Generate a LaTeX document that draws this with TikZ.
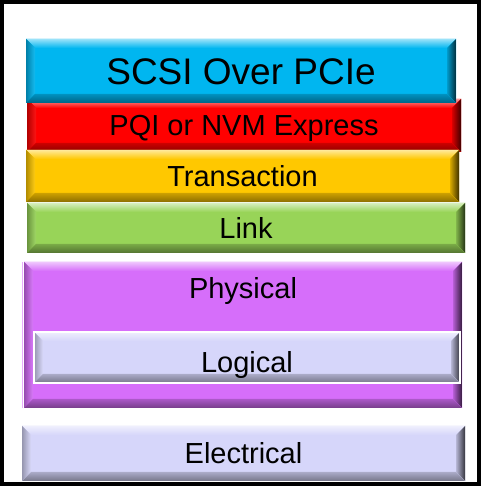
\documentclass[tikz,border=0pt]{standalone}
\usepackage{fontspec}
\setmainfont{Liberation Sans}
\usetikzlibrary{calc}

\definecolor{scsiblue}{RGB}{0,182,240}
\definecolor{pqired}{RGB}{255,0,0}
\definecolor{transgold}{RGB}{255,200,0}
\definecolor{linkgreen}{RGB}{152,212,88}
\definecolor{physviolet}{RGB}{214,110,250}
\definecolor{lavender}{RGB}{214,214,250}

\tikzset{
  % a flat face with a bevelled rim: light top, dark right and bottom
  layer/.style={
    rectangle, inner sep=0pt, outer sep=0pt, fill=#1,
    path picture={
      \coordinate (bvsw) at (path picture bounding box.south west);
      \coordinate (bvne) at (path picture bounding box.north east);
      \coordinate (bvnw) at (bvsw|-bvne);
      \coordinate (bvse) at (bvne|-bvsw);
      \coordinate (ibsw) at ($(bvsw)+(9pt,9pt)$);
      \coordinate (ibne) at ($(bvne)+(-9pt,-9pt)$);
      \coordinate (ibnw) at ($(bvnw)+(9pt,-9pt)$);
      \coordinate (ibse) at ($(bvse)+(-9pt,9pt)$);
      \fill[top color=#1!40!white, bottom color=#1] (bvnw) -- (bvne) -- (ibne) -- (ibnw) -- cycle;
      \fill[left color=#1!70!black, right color=#1!92!white] (bvnw) -- (ibnw) -- (ibsw) -- (bvsw) -- cycle;
      \fill[left color=#1!85!black, right color=#1!25!black] (bvne) -- (bvse) -- (ibse) -- (ibne) -- cycle;
      \fill[top color=#1!80!black, bottom color=#1!55!black] (bvsw) -- (ibsw) -- (ibse) -- (bvse) -- cycle;
    }
  },
  % cap height of Arial-metric text is 0.716 of the size
  label29/.style={font=\fontsize{29}{30}\selectfont, text height=20.8pt, text depth=0pt},
  label37/.style={font=\fontsize{37}{38}\selectfont, text height=26.5pt, text depth=0pt},
}

\begin{document}
\begin{tikzpicture}[x=1pt,y=1pt]
  \useasboundingbox (0,0) rectangle (481,486);
  \fill[white] (0,0) rectangle (481,486);

  % protocol stack, drawn so that each layer overlaps the one above it
  \node[layer=pqired, label29, minimum width=434pt, minimum height=53pt]
    (pqi) at (244,360.5) {PQI or NVM Express};
  \node[layer=scsiblue, label37, minimum width=430pt, minimum height=64pt]
    (scsi) at (241,415) {SCSI Over PCIe};
  \node[layer=transgold, label29, minimum width=433pt, minimum height=52pt]
    (trans) at (242.5,310) {Transaction};
  \node[layer=linkgreen, label29, minimum width=438pt, minimum height=50pt]
    (link) at (246,258) {Link};

  % physical layer with its logical sub-layer
  \draw[physviolet!55!white, line width=0.8pt] (22.4,78) -- (22.4,224);
  \node[layer=physviolet, minimum width=438pt, minimum height=146pt]
    (phys) at (243,151) {};
  \node[label29, inner sep=0pt]
    (physlabel) at (243,198) {Physical};
  \node[layer=lavender, draw=white, line width=1.2pt,
        minimum width=426pt, minimum height=51pt]
    (logical) at (247,128.5) {};
  \node[label29, inner sep=0pt]
    (logicallabel) at (247,124) {Logical};

  \node[layer=lavender, label29, minimum width=443pt, minimum height=55pt]
    (elec) at (243.5,32.5) {Electrical};

  % frame
  \draw[line width=4pt] (2,2) rectangle (479,484);
\end{tikzpicture}
\end{document}
